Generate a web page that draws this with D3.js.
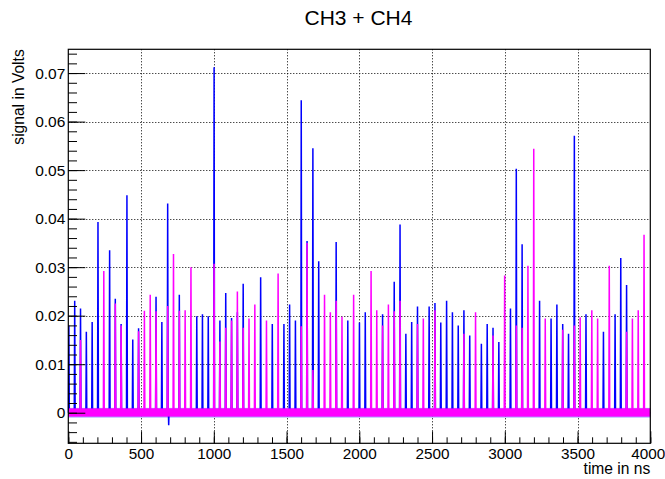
<!DOCTYPE html>
<html>
<head>
<meta charset="utf-8">
<script src="https://cdn.jsdelivr.net/npm/d3@7"></script>
<style>
  body { margin: 0; background: #fff; }
  svg { font-family: "Liberation Sans", Arial, Helvetica, sans-serif; }
</style>
</head>
<body>
<div id="chart"></div>
<script>
// pulse times (ns), one every ~40 ns
var pulseTime = [4, 44, 84, 124, 164, 204, 244, 284, 323, 363,
  403, 443, 483, 523, 563, 603, 643, 683, 723, 763,
  803, 843, 883, 922, 962, 1002, 1042, 1082, 1122, 1162,
  1202, 1242, 1282, 1322, 1362, 1402, 1442, 1482, 1521, 1561,
  1601, 1641, 1681, 1721, 1761, 1801, 1841, 1881, 1921, 1961,
  2001, 2041, 2081, 2120, 2160, 2200, 2240, 2280, 2320, 2360,
  2400, 2440, 2480, 2520, 2560, 2600, 2640, 2680, 2719, 2759,
  2799, 2839, 2879, 2919, 2959, 2999, 3039, 3079, 3119, 3159,
  3199, 3239, 3278, 3318, 3358, 3398, 3438, 3478, 3518, 3558,
  3598, 3638, 3678, 3718, 3758, 3797, 3837, 3877, 3917, 3957];

// CH3 (blue) peak heights in volts, 0 = no pulse
var ch3Peak = [0.0180, 0.0231, 0.0215, 0.0167, 0.0187, 0.0393, 0, 0.0335, 0.0235, 0.0183,
  0.0448, 0.0151, 0.0174, 0, 0, 0.0239, 0.0187, 0.0431, 0, 0.0243,
  0, 0, 0.0199, 0.0203, 0.0199, 0.0712, 0.0190, 0.0247, 0.0195, 0.0207,
  0.0266, 0, 0, 0.0279, 0, 0.0183, 0, 0.0183, 0.0223, 0.0190,
  0.0644, 0.0354, 0.0545, 0.0312, 0, 0, 0.0352, 0, 0.0190, 0,
  0.0186, 0.0207, 0, 0, 0.0203, 0, 0.0270, 0.0388, 0.0163, 0.0187,
  0.0219, 0, 0.0219, 0.0226, 0.0186, 0.0231, 0.0207, 0.0180, 0.0211, 0.0159,
  0, 0.0142, 0.0183, 0.0175, 0.0146, 0, 0.0215, 0.0503, 0.0347, 0,
  0, 0.0231, 0, 0.0194, 0.0223, 0.0183, 0.0163, 0.0571, 0, 0.0203,
  0, 0, 0.0167, 0, 0.0203, 0.0319, 0.0263, 0, 0, 0];

// CH4 (magenta) peak heights in volts
var ch4Peak = [0, 0, 0.0150, 0, 0, 0, 0.0292, 0, 0.0225, 0.0180,
  0, 0, 0.0168, 0.0210, 0.0243, 0.0209, 0, 0.0220, 0.0327, 0.0210,
  0.0211, 0.0300, 0, 0, 0, 0.0307, 0.0147, 0.0175, 0.0190, 0.0250,
  0.0175, 0.0194, 0.0223, 0, 0.0190, 0, 0.0287, 0, 0, 0,
  0.0178, 0.0350, 0.0088, 0, 0.0243, 0.0207, 0.0231, 0.0198, 0, 0.0243,
  0, 0, 0.0292, 0.0211, 0.0180, 0.0223, 0.0209, 0.0231, 0, 0,
  0.0183, 0.0194, 0, 0.0211, 0, 0, 0, 0, 0.0163, 0,
  0.0207, 0, 0, 0.0159, 0, 0.0283, 0, 0.0180, 0.0175, 0.0303,
  0.0544, 0, 0.0194, 0, 0, 0.0171, 0, 0.0180, 0.0197, 0,
  0.0211, 0.0194, 0, 0.0303, 0, 0, 0.0167, 0.0194, 0.0211, 0.0367];

// undershoot of CH3 after one pulse
var ch3DipTime = [690];
var ch3DipValue = [-0.0026];

// baseline noise band (volts)
var ch3Noise = [-0.0010, 0.0010];
var ch4Noise = [-0.0008, 0.0009];

var xTicks = [0, 500, 1000, 1500, 2000, 2500, 3000, 3500, 4000];
var yTicks = [0, 0.01, 0.02, 0.03, 0.04, 0.05, 0.06, 0.07];

var W = 665, H = 479;
var frame = {left: 68.3, right: 650.3, top: 49.3, bottom: 443.3};

var x = d3.scaleLinear().domain([0, 4000]).range([frame.left, frame.right]);
var y = d3.scaleLinear().domain([-0.0063, 0.0749]).range([frame.bottom, frame.top]);

var svg = d3.select("#chart").append("svg")
    .attr("width", W)
    .attr("height", H);

// grid
var grid = svg.append("g").attr("class", "grid")
    .attr("stroke", "#000").attr("stroke-width", 1).attr("stroke-dasharray", "1,2");
grid.selectAll(".gx").data(xTicks.slice(1, -1)).enter().append("line")
    .attr("x1", function(d) { return Math.round(x(d)) + 0.5; })
    .attr("x2", function(d) { return Math.round(x(d)) + 0.5; })
    .attr("y1", frame.top).attr("y2", frame.bottom);
grid.selectAll(".gy").data(yTicks).enter().append("line")
    .attr("y1", function(d) { return Math.round(y(d)) + 0.5; })
    .attr("y2", function(d) { return Math.round(y(d)) + 0.5; })
    .attr("x1", frame.left).attr("x2", frame.right);

// build a channel trace from the peaks
function tracePoints(peaks, dipT, dipV) {
  var pts = [[0, 0]];
  pulseTime.forEach(function(t, i) {
    if (peaks[i] > 0) {
      pts.push([t - 3, 0], [t, peaks[i]], [t + 3, 0]);
    }
  });
  (dipT || []).forEach(function(t, i) {
    pts.push([t - 2, 0], [t, dipV[i]], [t + 2, 0]);
  });
  pts.push([4000, 0]);
  pts.sort(function(a, b) { return a[0] - b[0]; });
  return pts;
}

var line = d3.line()
    .x(function(d) { return x(d[0]); })
    .y(function(d) { return y(d[1]); });

var plot = svg.append("g").attr("class", "plot");

plot.append("rect")
    .attr("x", x(0)).attr("width", x(4000) - x(0))
    .attr("y", y(ch3Noise[1])).attr("height", y(ch3Noise[0]) - y(ch3Noise[1]))
    .attr("fill", "#0000ff").attr("opacity", 0.35);

plot.append("path")
    .datum(tracePoints(ch3Peak, ch3DipTime, ch3DipValue))
    .attr("fill", "none")
    .attr("stroke", "#0000ff")
    .attr("stroke-width", 1.5)
    .attr("d", line);

plot.append("rect")
    .attr("x", x(0)).attr("width", x(4000) - x(0))
    .attr("y", y(ch4Noise[1])).attr("height", y(ch4Noise[0]) - y(ch4Noise[1]))
    .attr("fill", "#ff00ff");

plot.append("path")
    .datum(tracePoints(ch4Peak))
    .attr("fill", "none")
    .attr("stroke", "#ff00ff")
    .attr("stroke-width", 1.5)
    .attr("d", line);

// frame
svg.append("rect")
    .attr("x", frame.left).attr("y", frame.top)
    .attr("width", frame.right - frame.left)
    .attr("height", frame.bottom - frame.top)
    .attr("fill", "none").attr("stroke", "#000").attr("stroke-width", 1.2);

// axes (ROOT style: ticks inside)
var fmtY = function(d) { return d === 0 ? "0" : d3.format(".2f")(d); };

var yMinor = d3.range(-0.006, 0.0749, 0.002);
svg.append("g")
    .attr("transform", "translate(" + frame.left + ",0)")
    .call(d3.axisLeft(y).tickValues(yMinor).tickSize(-8.7).tickFormat(""))
    .call(function(g) { g.select(".domain").remove(); });
svg.append("g")
    .attr("class", "yaxis")
    .attr("transform", "translate(" + frame.left + ",0)")
    .call(d3.axisLeft(y).tickValues(yTicks).tickSize(-17).tickPadding(3).tickFormat(fmtY))
    .call(function(g) { g.select(".domain").remove(); });

var xMinor = d3.range(0, 4001, 100);
svg.append("g")
    .attr("transform", "translate(0," + frame.bottom + ")")
    .call(d3.axisBottom(x).tickValues(xMinor).tickSize(-6).tickFormat(""))
    .call(function(g) { g.select(".domain").remove(); });
svg.append("g")
    .attr("class", "xaxis")
    .attr("transform", "translate(0," + frame.bottom + ")")
    .call(d3.axisBottom(x).tickValues(xTicks).tickSize(-12).tickPadding(5).tickFormat(d3.format("d")))
    .call(function(g) { g.select(".domain").remove(); });

svg.selectAll(".tick line").attr("stroke", "#000");
svg.selectAll(".yaxis text").style("font-size", "15.5px").attr("fill", "#000");
svg.selectAll(".xaxis text").style("font-size", "15.3px").attr("fill", "#000");
// keep the last label inside the window
svg.selectAll(".xaxis .tick text")
    .filter(function(d) { return d === 4000; })
    .attr("text-anchor", "end").attr("x", 14.5);

// titles
svg.append("text")
    .attr("x", 358.5).attr("y", 25)
    .attr("text-anchor", "middle")
    .style("font-size", "21px")
    .text("CH3 + CH4");

svg.append("text")
    .attr("x", frame.right).attr("y", 474)
    .attr("text-anchor", "end")
    .style("font-size", "15.6px")
    .text("time in ns");

svg.append("text")
    .attr("transform", "translate(24," + frame.top + ") rotate(-90)")
    .attr("text-anchor", "end")
    .style("font-size", "15.6px")
    .text("signal in Volts");
</script>
</body>
</html>
